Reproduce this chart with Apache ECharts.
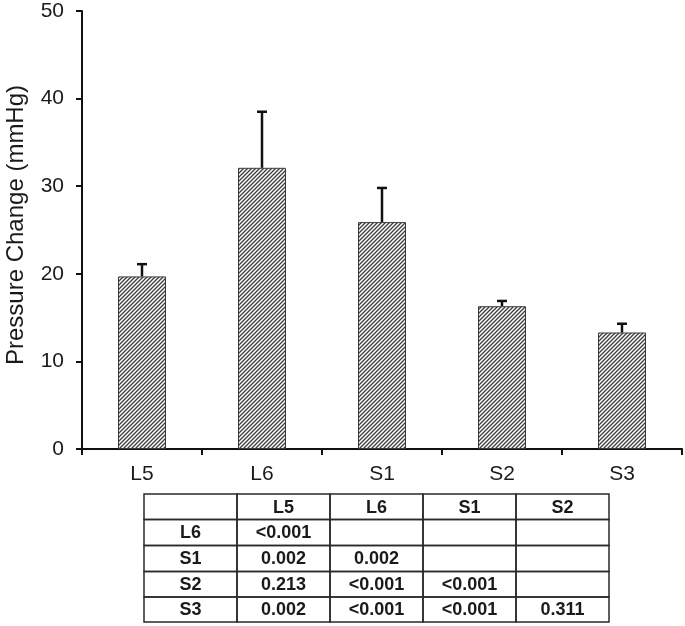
<!DOCTYPE html>
<html>
<head>
<meta charset="utf-8">
<script src="https://cdn.jsdelivr.net/npm/echarts@6/dist/echarts.min.js"></script>
<style>
  html, body { margin: 0; padding: 0; background: #fff; }
  #chart { width: 685px; height: 626px; }
</style>
</head>
<body>
<div id="chart"></div>
<script>
  // data
  var categories = ['L5', 'L6', 'S1', 'S2', 'S3'];
  var means = [19.7, 32.1, 25.9, 16.3, 13.3];
  var errors = [1.4, 6.4, 3.9, 0.6, 1.0];
  var yTicks = [0, 10, 20, 30, 40, 50];

  var tableCols = ['L5', 'L6', 'S1', 'S2'];
  var tableRows = ['L6', 'S1', 'S2', 'S3'];
  var pValues = [
    ['<0.001', '', '', ''],
    ['0.002', '0.002', '', ''],
    ['0.213', '<0.001', '<0.001', ''],
    ['0.002', '<0.001', '<0.001', '0.311']
  ];

  // hatch fill  ///
  function hatch() {
    var s = 4;
    var c = document.createElement('canvas');
    c.width = s; c.height = s;
    var ctx = c.getContext('2d');
    ctx.fillStyle = '#fff';
    ctx.fillRect(0, 0, s, s);
    ctx.strokeStyle = '#3c3c3c';
    ctx.lineWidth = 1.3;
    ctx.beginPath();
    ctx.moveTo(-1, s + 1); ctx.lineTo(s + 1, -1);
    ctx.moveTo(-1, 1); ctx.lineTo(1, -1);
    ctx.moveTo(s - 1, s + 1); ctx.lineTo(s + 1, s - 1);
    ctx.stroke();
    return c;
  }

  var errData = categories.map(function (c, i) { return [i, means[i], means[i] + errors[i]]; });

  // table drawn with graphic elements
  var tblX = [144, 237, 330, 423, 516, 609];
  var tblY = [494, 519.5, 545.5, 571.5, 597, 622];
  var graphics = [];
  var cells = [[''].concat(tableCols)];
  tableRows.forEach(function (r, i) { cells.push([r].concat(pValues[i])); });
  for (var r = 0; r < cells.length; r++) {
    for (var c = 0; c < cells[r].length; c++) {
      var x0 = tblX[c], x1 = tblX[c + 1], y0 = tblY[r], y1 = tblY[r + 1];
      graphics.push({
        type: 'rect',
        shape: { x: x0, y: y0, width: x1 - x0, height: y1 - y0 },
        style: { fill: null, stroke: '#2a2a2a', lineWidth: 1.5 }
      });
      if (cells[r][c]) {
        graphics.push({
          type: 'text',
          x: (x0 + x1) / 2,
          y: (y0 + y1) / 2 + 1,
          style: {
            text: cells[r][c],
            fill: '#1a1a1a',
            font: 'bold 18px "Liberation Sans", Arial, sans-serif',
            align: 'center',
            verticalAlign: 'middle'
          }
        });
      }
    }
  }

  var chart = echarts.init(document.getElementById('chart'));
  chart.setOption({
    backgroundColor: '#fff',
    animation: false,
    grid: { left: 82, right: 3, top: 11, bottom: 177, containLabel: false, outerBoundsMode: 'none' },
    xAxis: {
      type: 'category',
      data: categories,
      axisLine: { lineStyle: { color: '#111', width: 2 } },
      axisTick: { show: true, alignWithLabel: false, length: 6, lineStyle: { color: '#111', width: 2 } },
      axisLabel: { color: '#1a1a1a', fontSize: 21, margin: 15, fontFamily: 'Liberation Sans' }
    },
    yAxis: {
      type: 'value',
      min: yTicks[0],
      max: yTicks[yTicks.length - 1],
      interval: 10,
      name: 'Pressure Change (mmHg)',
      nameLocation: 'middle',
      nameGap: 54,
      nameTextStyle: { color: '#1a1a1a', fontSize: 24, fontFamily: 'Liberation Sans', padding: [0, 0, 0, 10] },
      axisLine: { show: true, lineStyle: { color: '#111', width: 2 } },
      axisTick: { show: true, length: 6, lineStyle: { color: '#111', width: 2 } },
      axisLabel: { color: '#1a1a1a', fontSize: 21, margin: 18, fontFamily: 'Liberation Sans' },
      splitLine: { show: false }
    },
    series: [
      {
        type: 'bar',
        data: means,
        barWidth: '40%',
        itemStyle: {
          color: { image: hatch(), repeat: 'repeat' },
          borderColor: '#3a3a3a',
          borderWidth: 1
        },
        z: 2
      },
      {
        type: 'custom',
        data: errData,
        z: 3,
        renderItem: function (params, api) {
          var base = api.coord([api.value(0), api.value(1)]);
          var top = api.coord([api.value(0), api.value(2)]);
          var st = { stroke: '#111', lineWidth: 2.5 };
          return {
            type: 'group',
            children: [
              { type: 'line', shape: { x1: base[0], y1: base[1], x2: top[0], y2: top[1] }, style: st },
              { type: 'line', shape: { x1: top[0] - 5, y1: top[1], x2: top[0] + 5, y2: top[1] }, style: st }
            ]
          };
        }
      }
    ],
    graphic: graphics
  });
</script>
</body>
</html>
